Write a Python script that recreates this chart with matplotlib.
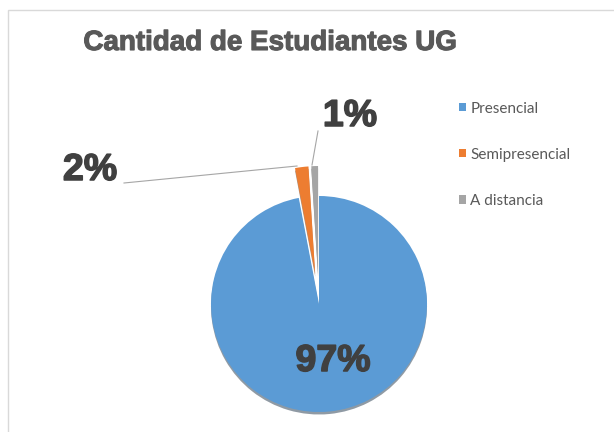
import matplotlib.pyplot as plt
import matplotlib.patches as mpatches
import matplotlib.patheffects as pe

# data
labels = ['Presencial', 'Semipresencial', 'A distancia']
values = [97, 2, 1]
colors = ['#5B9BD5', '#ED7D31', '#A5A5A5']
explode = [0, 30, 30]

fig = plt.figure(figsize=(6.14, 4.32), dpi=100)
ax = fig.add_axes([0, 0, 1, 1])
ax.set_xlim(0, 614)
ax.set_ylim(0, 432)
ax.axis('off')

H = 432

# chart border
ax.add_patch(mpatches.Rectangle((8, -5), 620, H - 10 + 5, fill=False,
                                edgecolor='#d9d9d9', linewidth=1))

wedges, _ = ax.pie(values, colors=colors, startangle=90, counterclock=False,
                   center=(319, H - 304), radius=108, explode=explode,
                   shadow={'ox': 0, 'oy': -1.8, 'shade': 0.65},
                   wedgeprops={'linewidth': 0})
ax.set_xlim(0, 614)
ax.set_ylim(0, 432)
ax.set_aspect('auto')

ax.text(270, H - 43, 'Cantidad de Estudiantes UG', ha='center', va='center',
        fontsize=20, fontweight='bold', color='#595959',
        family='Liberation Sans',
        path_effects=[pe.withStroke(linewidth=0.8, foreground='#595959')])

heavy = [pe.withStroke(linewidth=1.1, foreground='#404040')]
lab_style = dict(fontsize=27, fontweight='bold', color='#404040',
                 family='Liberation Sans', va='center', path_effects=heavy)
ax.text(333, H - 361, f'{values[0]}%', ha='center', **lab_style)
ax.text(90, H - 170, f'{values[1]}%', ha='center', **lab_style)
ax.text(350, H - 116, f'{values[2]}%', ha='center', **lab_style)

# leader lines
ax.plot([124, 297], [H - 183, H - 166], color='#a6a6a6', lw=0.8)
ax.plot([312, 318], [H - 165, H - 131], color='#a6a6a6', lw=0.8)

leg = ax.legend(wedges, labels, loc='upper left', bbox_to_anchor=(445 / 614, 1 - 88 / 432),
                bbox_transform=fig.transFigure, frameon=False,
                handlelength=0.45, handleheight=0.45, handletextpad=0.3,
                labelspacing=2.1, prop={'family': 'Lato', 'size': 11})
for t in leg.get_texts():
    t.set_color('#595959')

fig.savefig('out.png', dpi=100)
